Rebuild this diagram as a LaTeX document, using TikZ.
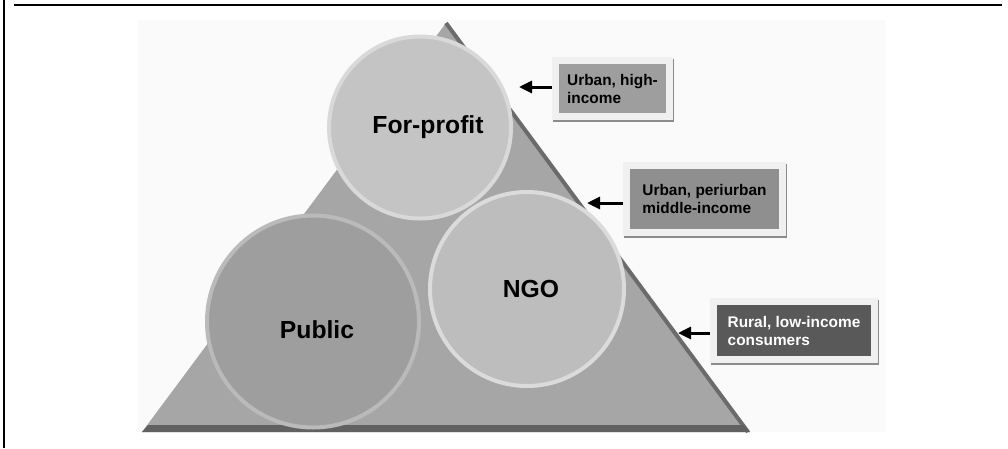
\documentclass[tikz,border=0pt]{standalone}
\usepackage{fontspec}
\setmainfont{Liberation Sans}
\usetikzlibrary{arrows.meta,shadows}
\tikzset{
    segment/.style={circle,inner sep=0,line width=4pt},
    segname/.style={inner sep=0,font=\fontsize{24.7}{28}\selectfont\bfseries},
    outerbox/.style={fill=black!6,inner sep=0,drop shadow={shadow xshift=1pt,shadow yshift=-1.5pt,fill=black!45,opacity=1}},
    market/.style={inner sep=0,align=left,font=\fontsize{15.4}{18}\selectfont\bfseries},
    pointer/.style={line width=3pt,-{Triangle[length=13pt,width=12pt]}}
}
\begin{document}
\begin{tikzpicture}[x=1pt,y=-1pt]
\useasboundingbox (0,0) rectangle (1008,448);
\fill[black!2] (138,20) rectangle (885,432);
\draw[line width=2.5pt] (4,0) -- (4,448);
\draw[line width=2.5pt] (14,5) -- (1002,5);

% pyramid
\coordinate (apex) at (446,23);
\coordinate (baseleft) at (142,432);
\coordinate (baseright) at (750,432);
\fill[black!35] (apex) -- (baseleft) -- (baseright) -- cycle;
\draw[black!58,line width=4pt] (apex) -- ([xshift=-2pt]baseright);
\fill[black!62] (baseleft) -- (baseright) -- (744,425) -- (148,425) -- cycle;

\node[segment,minimum size=212pt,fill=black!38,draw=black!27] at (313,321.5)(public){};
\node[segment,minimum size=182pt,fill=black!23,draw=black!15] at (420,127.5)(forprofit){};
\node[segment,minimum size=194pt,fill=black!26,draw=black!14] at (527,289)(ngo){};
\node[segname] at ([xshift=4pt,yshift=-8pt]public.center)(publicname){Public};
\node[segname] at ([xshift=8pt]forprofit.center)(forprofitname){For-profit};
\node[segname] at ([xshift=4pt]ngo.center)(ngoname){NGO};

% consumer groups
\node[outerbox,minimum width=121pt,minimum height=63pt] at (612.5,88.5)(highbox){};
\node[market,fill=black!38,minimum width=107pt,minimum height=49pt] at (highbox)(high){Urban, high-\\income};
\node[outerbox,minimum width=163pt,minimum height=74pt] at (704.5,199)(midbox){};
\node[market,fill=black!44,minimum width=149pt,minimum height=60pt] at (midbox)(mid){Urban, periurban\\middle-income};
\node[outerbox,minimum width=168pt,minimum height=65pt] at (794,330.5)(lowbox){};
\node[market,fill=black!65,text=white,minimum width=154pt,minimum height=51pt] at (lowbox)(low){Rural, low-income\\consumers};

\coordinate (hightip) at (519,87);
\coordinate (midtip) at (587,203);
\coordinate (lowtip) at (678,333);
\draw[pointer] (highbox.west |- hightip) -- (hightip);
\draw[pointer] (midbox.west |- midtip) -- (midtip);
\draw[pointer] (lowbox.west |- lowtip) -- (lowtip);
\end{tikzpicture}
\end{document}
